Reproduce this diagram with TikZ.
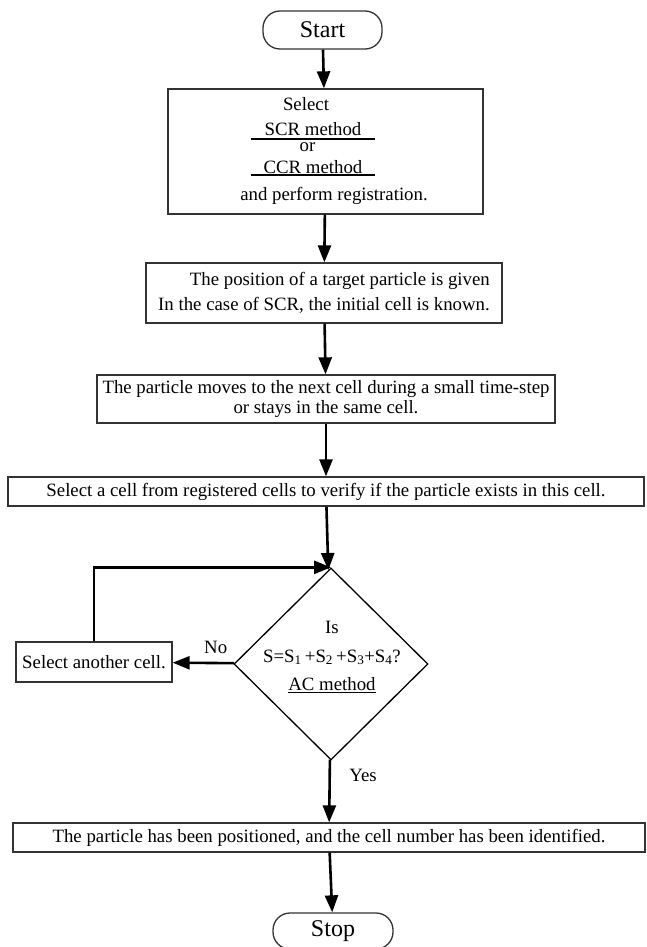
\documentclass[tikz,border=0pt]{standalone}
\usepackage{fontspec}
\setmainfont{Liberation Serif}
\usetikzlibrary{shapes.geometric,arrows.meta}

\begin{document}
\begin{tikzpicture}[x=1pt,y=-1pt,->,>={Triangle[length=17pt,width=13pt]},line width=2.6pt,font=\fontsize{18.8}{23}\selectfont,
    box/.style={rectangle,draw=black!80,line width=1.3pt,inner xsep=2pt,inner ysep=0pt,align=center},
    term/.style={rectangle,rounded corners=17pt,draw=black!80,line width=1.3pt,minimum width=119pt,minimum height=38pt,inner ysep=0pt,font=\fontsize{24}{26}\selectfont},
    decision/.style={diamond,draw,line width=1.3pt,minimum width=194pt,minimum height=192pt,inner sep=0pt},
    txt/.style={inner sep=0pt,anchor=base}]
            \useasboundingbox (0,0) rectangle (646,947);

            \node[term] (1) at (322.5,30) {Start};

            \node[box,minimum width=315pt,minimum height=125pt] (2) at (325.5,151.5) {};
            \node[txt] (2a) at (306,111) {Select};
            \node[txt,minimum width=122pt] (2b) at (313,135.4) {SCR method};
            \node[txt] (2c) at (307.5,151.3) {or};
            \node[txt,minimum width=122pt] (2d) at (313,173.2) {CCR method};
            \node[txt] (2e) at (334,200.4) {and perform registration.};
            \draw[-,line width=1.2pt] ([yshift=-3.6pt]2b.base west) -- ([yshift=-3.6pt]2b.base east);
            \draw[-,line width=1.2pt] ([yshift=-1.8pt]2d.base west) -- ([yshift=-1.8pt]2d.base east);

            \node[box,align=right,minimum width=356pt,minimum height=60pt,font=\fontsize{18.8}{25}\selectfont] (3) at (324,293) {The position of a target particle is given\\In the case of SCR, the initial cell is known.};
            \node[box,minimum width=458pt,minimum height=48pt,font=\fontsize{18.8}{20.5}\selectfont] (4) at (326,399) {The particle moves to the next cell during a small time-step\\or stays in the same cell.};
            \node[box,minimum width=636pt,minimum height=29pt] (5) at (326,491.5) {Select a cell from registered cells to verify if the particle exists in this cell.};

            \node[decision] (6) at (331,664) {};
            \node[inner sep=0pt,align=center,font=\fontsize{18.8}{28.5}\selectfont] (6t) at (332,657) {Is\\S=S\textsubscript{1}\,+S\textsubscript{2}\,+S\textsubscript{3}+S\textsubscript{4}?\\\underline{AC method}};
            \node[box,minimum width=156pt,minimum height=40pt] (7) at (94,662) {Select another cell.};

            \node[box,minimum width=632pt,minimum height=29pt] (8) at (329,837.5) {The particle has been positioned, and the cell number has been identified.};
            \node[term,minimum width=120pt,minimum height=36pt] (9) at (333,931) {Stop};

            \path
                (1) edge (2)
                (2) edge (3)
                (3) edge (4)
                (4) edge (5)
                (5) edge (6)
                (6) edge node[above=5pt,pos=0.3] {No} (7)
                (6) edge node[right,pos=0.25,xshift=15pt] {Yes} (8)
                (8) edge (9)
                ;
            \draw (7.north) |- (6.north);
        \end{tikzpicture}
\end{document}
